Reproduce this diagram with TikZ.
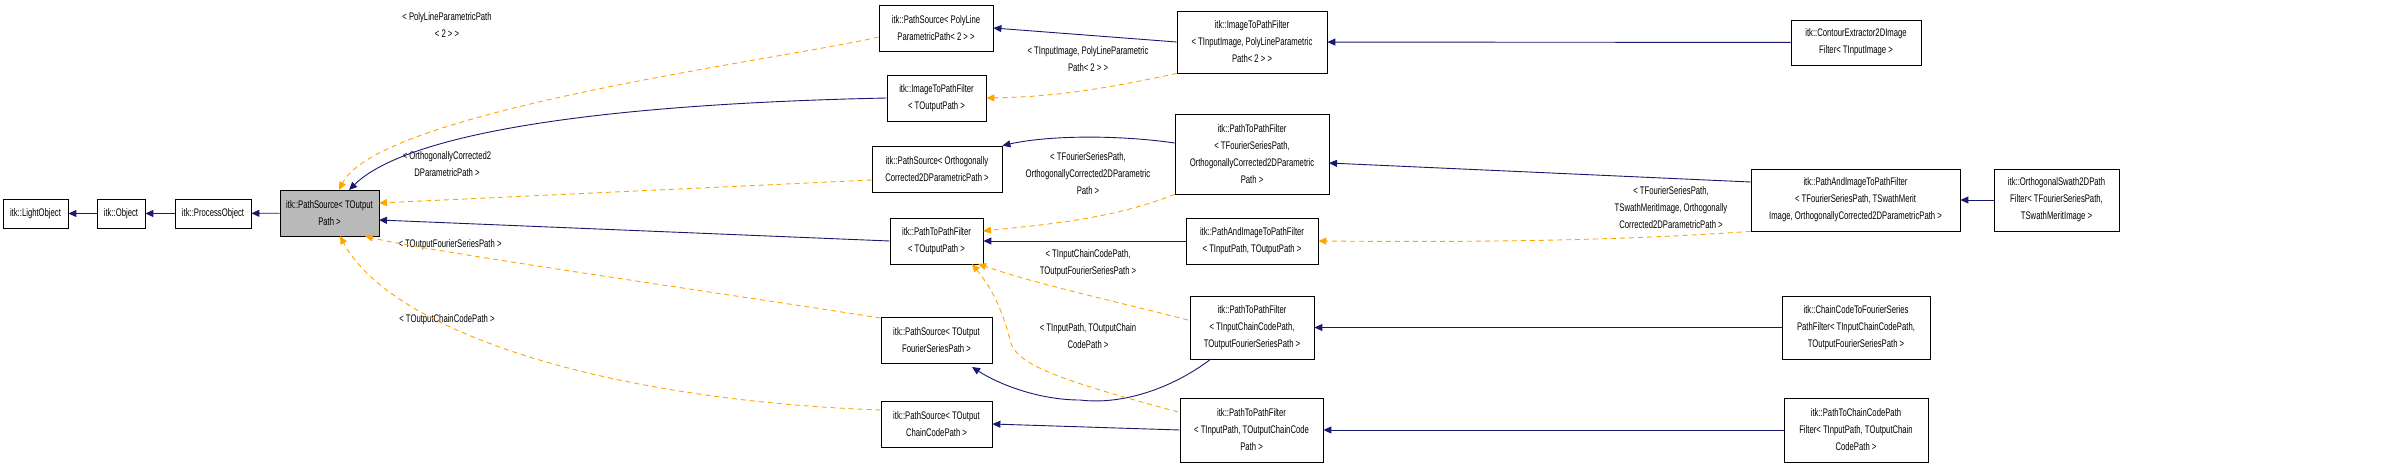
\documentclass[tikz,border=0pt]{standalone}
\usepackage{fontspec}
\setmainfont{Liberation Sans}[FakeStretch=0.7]
\usetikzlibrary{arrows.meta}
\definecolor{navy}{RGB}{25,25,112}
\definecolor{tmpl}{RGB}{255,165,0}
\tikzset{x=1pt, y=-1pt,
  every node/.style={font=\fontsize{11}{17}\selectfont, inner sep=0pt, align=center},
  cls/.style 2 args={draw, line width=0.8pt, minimum width=#1, minimum height=#2},
  inh/.style={navy, line width=0.9pt, -{Triangle[length=8pt,width=7pt]}},
  tpl/.style={tmpl, line width=0.9pt, dash pattern=on 5pt off 4pt, -{Triangle[length=8pt,width=7pt]}}}

\begin{document}
\begin{tikzpicture}
  \useasboundingbox (0,0) rectangle (2389,468);
  % classes
  \node[cls={65}{29}]  (light)  at (35.5,213.5) {itk::LightObject};
  \node[cls={48}{29}]  (obj)    at (121,213.5)  {itk::Object};
  \node[cls={76}{29}]  (proc)   at (213,213.5)  {itk::ProcessObject};
  \node[cls={99}{46}, fill=gray!55] (src) at (329.5,213) {itk::PathSource< TOutput\\Path >};
  \node[cls={114}{46}] (srcpoly) at (936,28)    {itk::PathSource< PolyLine\\ParametricPath< 2 > >};
  \node[cls={99}{46}]  (itpf)   at (936.5,98)   {itk::ImageToPathFilter\\< TOutputPath >};
  \node[cls={130}{46}] (srcorth) at (937,169)   {itk::PathSource< Orthogonally\\Corrected2DParametricPath >};
  \node[cls={93}{46}]  (ptpf)   at (936.5,241)  {itk::PathToPathFilter\\< TOutputPath >};
  \node[cls={111}{46}] (srcfour) at (936.5,340) {itk::PathSource< TOutput\\FourierSeriesPath >};
  \node[cls={111}{46}] (srcchain) at (936.5,424) {itk::PathSource< TOutput\\ChainCodePath >};
  \node[cls={150}{62}] (itpfimg) at (1252,42)   {itk::ImageToPathFilter\\< TInputImage, PolyLineParametric\\Path< 2 > >};
  \node[cls={154}{80}] (ptpfour) at (1252,154)  {itk::PathToPathFilter\\< TFourierSeriesPath,\\OrthogonallyCorrected2DParametric\\Path >};
  \node[cls={132}{46}] (paitp)  at (1252,241)   {itk::PathAndImageToPathFilter\\< TInputPath, TOutputPath >};
  \node[cls={124}{63}] (ptpcc)  at (1252,327.5) {itk::PathToPathFilter\\< TInputChainCodePath,\\TOutputFourierSeriesPath >};
  \node[cls={143}{64}] (ptpin)  at (1251.5,430) {itk::PathToPathFilter\\< TInputPath, TOutputChainCode\\Path >};
  \node[cls={130}{45}] (contour) at (1856,42.5)  {itk::ContourExtractor2DImage\\Filter< TInputImage >};
  \node[cls={209}{62}] (paitpf) at (1855.5,200) {itk::PathAndImageToPathFilter\\< TFourierSeriesPath, TSwathMerit\\Image, OrthogonallyCorrected2DParametricPath >};
  \node[cls={125}{62}] (swath)  at (2056.5,200) {itk::OrthogonalSwath2DPath\\Filter< TFourierSeriesPath,\\TSwathMeritImage >};
  \node[cls={148}{63}] (cc2f)   at (1856,327.5) {itk::ChainCodeToFourierSeries\\PathFilter< TInputChainCodePath,\\TOutputFourierSeriesPath >};
  \node[cls={144}{64}] (p2cc)   at (1856,430)   {itk::PathToChainCodePath\\Filter< TInputPath, TOutputChain\\CodePath >};
  % template labels
  \node (lpoly)  at (447,25)    {< PolyLineParametricPath\\< 2 > >};
  \node (lorth)  at (447,164)   {< OrthogonallyCorrected2\\DParametricPath >};
  \node (lfour)  at (450,245)   {< TOutputFourierSeriesPath >};
  \node (lchain) at (447,320)   {< TOutputChainCodePath >};
  \node (limg)   at (1088,59)   {< TInputImage, PolyLineParametric\\Path< 2 > >};
  \node (lfs)    at (1088,174)  {< TFourierSeriesPath,\\OrthogonallyCorrected2DParametric\\Path >};
  \node (lcc)    at (1088,263)  {< TInputChainCodePath,\\TOutputFourierSeriesPath >};
  \node (lin)    at (1088,336)  {< TInputPath, TOutputChain\\CodePath >};
  \node (lsw)    at (1671,208)  {< TFourierSeriesPath,\\TSwathMeritImage, Orthogonally\\Corrected2DParametricPath >};
  % inheritance
  \draw[inh] (obj) -- (light);
  \draw[inh] (proc) -- (obj);
  \draw[inh] (src) -- (proc);
  \draw[inh] (itpf.west) .. controls (560,105) and (400,140) .. (349,190);
  \draw[inh] (ptpf.west) -- (379,220);
  \draw[inh] (itpfimg.west) -- (srcpoly.east);
  \draw[inh] (ptpfour.north west |- 0,143) .. controls (1120,135) and (1050,135) .. (srcorth.north east);
  \draw[inh] (paitp) -- (ptpf);
  \draw[inh] (1211,359) .. controls (1170,390) and (1120,405) .. (1080,400)
    .. controls (1040,400) and (1000,385) .. (972,367);
  \draw[inh] (ptpin.west) -- (srcchain.east);
  \draw[inh] (contour) -- (itpfimg);
  \draw[inh] (paitpf.west |- 0,182) -- (1329,163);
  \draw[inh] (swath) -- (paitpf);
  \draw[inh] (cc2f) -- (ptpcc);
  \draw[inh] (p2cc) -- (ptpin);
  % template instances
  \draw[tpl] (srcpoly.west |- 0,37) .. controls (780,60) and (380,110) .. (339,190);
  \draw[tpl] (srcorth.west |- 0,180) -- (379,203);
  \draw[tpl] (srcfour.north west |- 0,318) .. controls (700,290) and (420,250) .. (365,236);
  \draw[tpl] (srcchain.west |- 0,410) .. controls (600,400) and (390,330) .. (340,236);
  \draw[tpl] (itpfimg.south west) .. controls (1100,90) and (1050,97) .. (itpf.east);
  \draw[tpl] (ptpfour.south west) .. controls (1110,220) and (1040,225) .. (983,231);
  \draw[tpl] (1188,320) .. controls (1110,300) and (1040,285) .. (978,264);
  \draw[tpl] (1178,412) .. controls (1060,380) and (1015,365) .. (1010,340)
    .. controls (1000,300) and (985,280) .. (972,264);
  \draw[tpl] (paitpf.south west) .. controls (1600,242) and (1450,242) .. (paitp.east);
\end{tikzpicture}
\end{document}
